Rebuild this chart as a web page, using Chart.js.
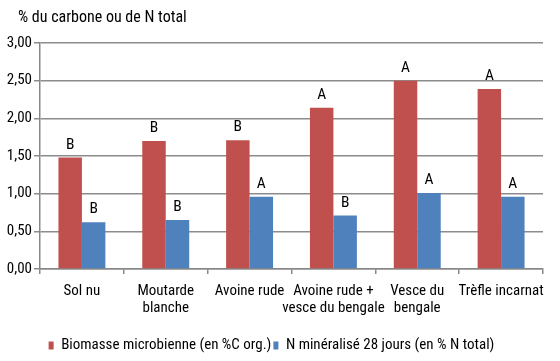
<!DOCTYPE html>
<html>
<head>
<meta charset="utf-8">
<script src="https://cdn.jsdelivr.net/npm/chart.js@4/dist/chart.umd.min.js"></script>
<style>
  html, body { margin: 0; padding: 0; background: #fff; }
  #wrap { width: 560px; height: 361px; }
</style>
</head>
<body>
<div id="wrap"><canvas id="graf"></canvas></div>
<script>
// données
const cultures = ["Sol nu", ["Moutarde", "blanche"], "Avoine rude", ["Avoine rude +", "vesce du bengale"], ["Vesce du", "bengale"], "Trèfle incarnat"];
const biomasse = [1.48, 1.70, 1.71, 2.14, 2.50, 2.39];
const azoteMin = [0.62, 0.65, 0.96, 0.71, 1.01, 0.96];
const lettresBiomasse = ["B", "B", "B", "A", "A", "A"];
const lettresAzote = ["B", "B", "A", "B", "A", "A"];
const yTicks = [0, 0.5, 1, 1.5, 2, 2.5, 3];

const police = "'Roboto Condensed', 'DejaVu Sans Condensed', sans-serif";
const taille = 15;

// lettres de significativité au-dessus des barres + titre de l'axe
const lettresPlugin = {
  id: "lettres",
  afterDatasetsDraw(chart) {
    const ctx = chart.ctx;
    ctx.save();
    ctx.fillStyle = "#000";
    ctx.font = "15.5px " + police;
    ctx.textAlign = "center";
    ctx.textBaseline = "alphabetic";
    [lettresBiomasse, lettresAzote].forEach((lettres, d) => {
      chart.getDatasetMeta(d).data.forEach((bar, i) => {
        ctx.fillText(lettres[i], bar.x, bar.y - 9);
      });
    });
    ctx.textAlign = "left";
    ctx.textBaseline = "middle";
    ctx.font = "16px " + police;
    ctx.fillText("% du carbone ou de N total", 18, 18);
    ctx.restore();
  }
};

const ctx = document.getElementById("graf").getContext("2d");
new Chart(ctx, {
  type: "bar",
  data: {
    labels: cultures,
    datasets: [
      {
        label: "Biomasse microbienne (en %C org.)",
        data: biomasse,
        backgroundColor: "#C0504D",
        categoryPercentage: 0.56,
        barPercentage: 1
      },
      {
        label: "N minéralisé 28 jours (en % N total)",
        data: azoteMin,
        backgroundColor: "#4F81BD",
        categoryPercentage: 0.56,
        barPercentage: 1
      }
    ]
  },
  options: {
    responsive: true,
    maintainAspectRatio: false,
    animation: false,
    layout: { padding: { top: 43, right: 17, left: 0, bottom: -2 } },
    plugins: {
      legend: {
        position: "bottom",
        labels: {
          boxWidth: 5, boxHeight: 8, color: "#000",
          font: { family: police, size: taille },
          padding: 2
        }
      },
      tooltip: { enabled: false }
    },
    scales: {
      x: {
        afterFit(axis) { axis.height = 67; },
        grid: { display: true, drawOnChartArea: false, color: "#888", lineWidth: 1.5, tickLength: 5, offset: true },
        border: { color: "#888", width: 1.5 },
        ticks: { color: "#000", font: { family: police, size: taille, lineHeight: 1.13 }, maxRotation: 0, autoSkip: false, padding: 9 }
      },
      y: {
        min: 0, max: 3,
        afterBuildTicks(axis) { axis.ticks = yTicks.map(v => ({ value: v })); },
        afterFit(axis) { axis.width = 40; },
        grid: { color: "#8c8c8c", lineWidth: 1.5, tickLength: 6 },
        border: { color: "#888", width: 1.5 },
        ticks: {
          color: "#000", font: { family: police, size: taille }, padding: 2,
          callback: v => v.toFixed(2).replace(".", ",")
        }
      }
    }
  },
  plugins: [lettresPlugin]
});
</script>
</body>
</html>
